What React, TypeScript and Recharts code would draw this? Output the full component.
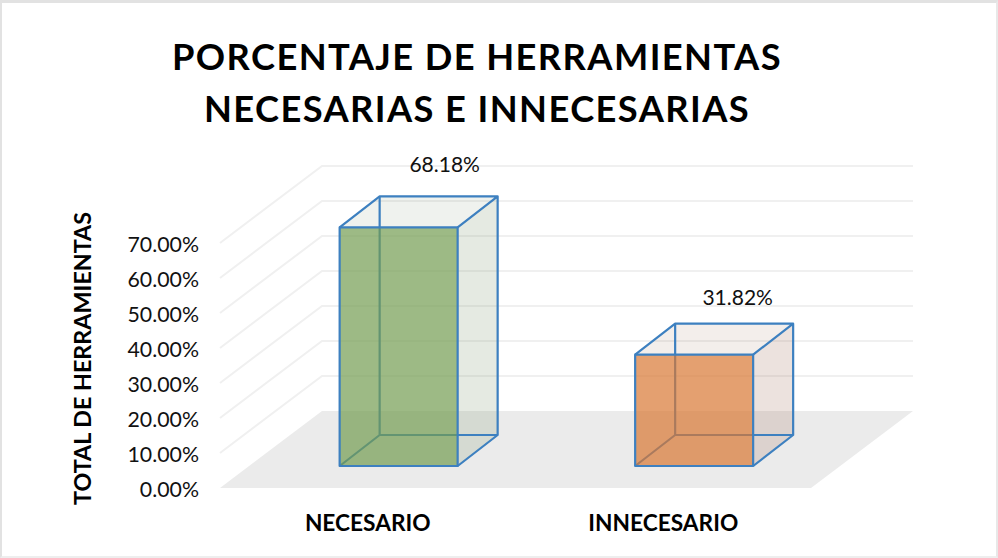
import { Bar, BarChart, CartesianGrid, LabelList, XAxis, YAxis } from 'recharts';

const categories = ['NECESARIO', 'INNECESARIO'];
const percentages = [68.18, 31.82];
const yTicks = [0, 10, 20, 30, 40, 50, 60, 70];
const titleLines = ['PORCENTAJE DE HERRAMIENTAS', 'NECESARIAS E INNECESARIAS'];
const yAxisTitle = 'TOTAL DE HERRAMIENTAS';

const frontFills = ['#739c51', '#d87833'];
const sideFills = ['#7f9470', '#a0705a'];

const data = categories.map((name, i) => ({ name, value: percentages[i] }));

const BASELINE = 488;
const FLOOR_DX = 102;
const FLOOR_DY = -77;
const BAR_DX = 40;
const BAR_DY = -31;
const BAR_SHIFT_X = 31;
const BAR_SHIFT_Y = -22;
const LABEL_SHIFT_X = [77, 74.5];
const LABEL_LIFT = [83, 77];
const EDGE = '#3d80c0';
const percent = (v: number) => `${v.toFixed(2)}%`;

function WallLine(props: any) {
  const { x1, y1, x2 } = props;
  if (Math.abs(y1 - BASELINE) < 1) {
    const pts = [
      [x1, y1],
      [x2, y1],
      [x2 + FLOOR_DX, y1 + FLOOR_DY],
      [x1 + FLOOR_DX, y1 + FLOOR_DY],
    ];
    return <polygon key="floor" points={pts.join(' ')} fill="#ebebeb" />;
  }
  return (
    <path
      key={`grid-${y1}`}
      d={`M${x1},${y1}L${x1 + FLOOR_DX},${y1 + FLOOR_DY}L${x2 + FLOOR_DX},${y1 + FLOOR_DY}`}
      fill="none"
      stroke="#f0f0f0"
      strokeWidth={2}
    />
  );
}

function Box(props: any) {
  const { x, y, width, height, index } = props;
  const l = x + BAR_SHIFT_X;
  const r = l + width;
  const t = y + BAR_SHIFT_Y;
  const b = t + height;
  const edge = { stroke: EDGE, strokeWidth: 2.2, strokeLinejoin: 'round' as const };
  return (
    <g>
      <path
        d={`M${l},${t}L${l + BAR_DX},${t + BAR_DY}H${r + BAR_DX}L${r},${t}Z`}
        fill={sideFills[index]}
        fillOpacity={0.12}
      />
      <path
        d={`M${r},${t}L${r + BAR_DX},${t + BAR_DY}V${b + BAR_DY}L${r},${b}Z`}
        fill={sideFills[index]}
        fillOpacity={0.2}
      />
      <path
        d={`M${l},${b}L${l + BAR_DX},${b + BAR_DY}H${r + BAR_DX}M${l + BAR_DX},${b + BAR_DY}V${t + BAR_DY}`}
        fill="none"
        {...edge}
      />
      <path
        d={`M${l},${t}L${l + BAR_DX},${t + BAR_DY}H${r + BAR_DX}V${b + BAR_DY}L${r},${b}M${r},${t}L${r + BAR_DX},${t + BAR_DY}`}
        fill="none"
        {...edge}
      />
      <rect x={l} y={t} width={width} height={height} fill={frontFills[index]} fillOpacity={0.7} {...edge} />
    </g>
  );
}

function BoxLabel(props: any) {
  const { x, y, width, value, index } = props;
  return (
    <text
      x={x + width / 2 + LABEL_SHIFT_X[index]}
      y={y - LABEL_LIFT[index]}
      textAnchor="middle"
      dominantBaseline="middle"
      fontSize={21}
      fill="#111"
    >
      {percent(value)}
    </text>
  );
}

export default function App() {
  return (
    <div
      style={{
        position: 'absolute',
        left: 0,
        top: 0,
        width: 998,
        height: 558,
        boxSizing: 'border-box',
        background: '#fff',
        borderTop: '3px solid #e2e2e2',
        borderLeft: '2px solid #e2e2e2',
        borderRight: '2px solid #e8e8e8',
        borderBottom: '2px solid #eeeeee',
        fontFamily: 'Lato, "Open Sans", sans-serif',
      }}
    >
      <div
        style={{
          position: 'absolute',
          left: -2,
          top: 27,
          width: 954,
          textAlign: 'center',
          fontSize: 36.3,
          fontWeight: 700,
          lineHeight: '52px',
          letterSpacing: 1.4,
          color: '#000',
          whiteSpace: 'nowrap',
        }}
      >
        {titleLines.map((line) => (
          <div key={line}>{line}</div>
        ))}
      </div>
      <div style={{ position: 'absolute', left: -2, top: -3 }}>
        <BarChart
          width={998}
          height={558}
          data={data}
          margin={{ top: 243, right: 187, bottom: 0, left: 0 }}
          barCategoryGap="30%"
        >
          <CartesianGrid vertical={false} horizontal={WallLine} />
          <XAxis
            dataKey="name"
            axisLine={false}
            tickLine={false}
            interval={0}
            height={70}
            tickMargin={21}
            tick={{ fontSize: 22.7, fontWeight: 700, fill: '#000' }}
          />
          <YAxis
            width={220}
            domain={[0, 70]}
            ticks={yTicks}
            interval={0}
            axisLine={false}
            tickLine={false}
            tickMargin={15}
            tickFormatter={percent}
            tick={{ fontSize: 21.3, fill: '#111', dy: 1 }}
            label={{
              value: yAxisTitle,
              angle: -90,
              position: 'insideLeft',
              dx: 78,
              dy: -7,
              style: { fontSize: 23.3, fontWeight: 700, fill: '#000', textAnchor: 'middle' },
            }}
          />
          <Bar dataKey="value" shape={Box} isAnimationActive={false}>
            <LabelList dataKey="value" content={BoxLabel} />
          </Bar>
        </BarChart>
      </div>
    </div>
  );
}
